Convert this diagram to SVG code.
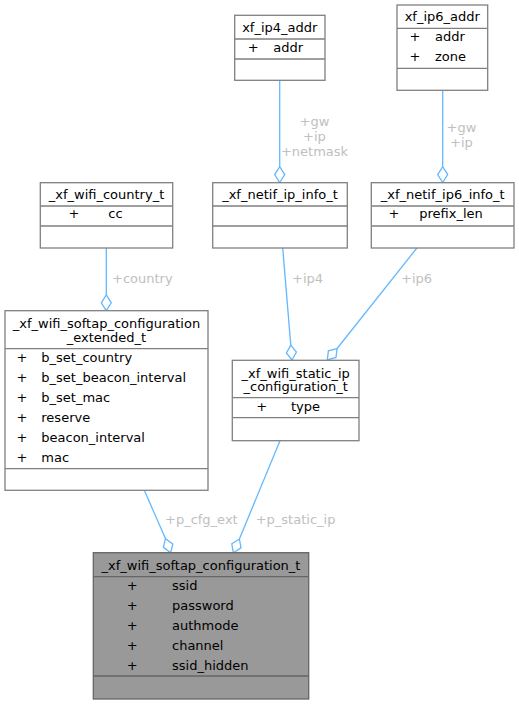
<svg xmlns="http://www.w3.org/2000/svg" width="519" height="704" viewBox="0 0 519 704">
<style>
text{font-family:"DejaVu Sans",sans-serif;font-size:13px;fill:#000}
.box{fill:#fff;stroke:#808080;stroke-width:1.3}
.sep{stroke:#808080;stroke-width:1.3}
.main{fill:#999999;stroke:#666666;stroke-width:1.3}
.msep{stroke:#666666;stroke-width:1.3}
.c{text-anchor:middle}
.edge{fill:none;stroke:#63b8ff;stroke-width:1.3}
.dia{fill:#fff;stroke:#63b8ff;stroke-width:1.3}
.lbl{fill:#c0c0c0}
</style>
<rect width="519" height="704" fill="#fff"/>
<g id="edges">
<path class="edge" d="M279.7,80.3V166.7"/>
<path class="dia" d="M279.7,182.5L284.7,174.6L279.7,166.7L274.7,174.6Z"/>
<text class="lbl c" x="314.5" y="125.5">+gw</text>
<text class="lbl c" x="314.5" y="140.5">+ip</text>
<text class="lbl c" x="314.5" y="155.5">+netmask</text>
<path class="edge" d="M442.7,90.3V166.7"/>
<path class="dia" d="M442.7,182.5L447.7,174.6L442.7,166.7L437.7,174.6Z"/>
<text class="lbl c" x="461.5" y="132.3">+gw</text>
<text class="lbl c" x="461.5" y="146.7">+ip</text>
<path class="edge" d="M106.3,248V295"/>
<path class="dia" d="M106.3,310.7L111.3,302.8L106.3,295L101.3,302.8Z"/>
<text class="lbl" x="112" y="282.7">+country</text>
<path class="edge" d="M282.7,248L290.8,345.1"/>
<path class="dia" d="M292,360L296.4,352.1L290.8,345.1L286.4,352.9Z"/>
<text class="lbl" x="292" y="282.7">+ip4</text>
<path class="edge" d="M416.9,248L337.1,348.5"/>
<path class="dia" d="M327.3,359.8L336,357.4L337.1,348.5L328.4,350.8Z"/>
<text class="lbl" x="401" y="282.7">+ip6</text>
<path class="edge" d="M144.3,490.3L165.45,538.6"/>
<path class="dia" d="M170.7,552.7L172.8,543.9L165.45,538.6L163.4,547.4Z"/>
<text class="lbl" x="165" y="524.3">+p_cfg_ext</text>
<path class="edge" d="M280,440.7L239.4,539"/>
<path class="dia" d="M233.3,552.7L241,547.9L239.4,539L231.8,543.8Z"/>
<text class="lbl" x="255.7" y="524.3">+p_static_ip</text>
</g>
<g id="xf_ip4_addr">
<rect class="box" x="234.7" y="15.3" width="90.3" height="65"/>
<path class="sep" d="M234.7,39H325M234.7,59H325"/>
<text class="c" x="279.8" y="31.7">xf_ip4_addr</text>
<text class="c" x="253.3" y="51.7">+</text>
<text x="273.3" y="51.7">addr</text>
</g>
<g id="xf_ip6_addr">
<rect class="box" x="397" y="5" width="90.7" height="85.3"/>
<path class="sep" d="M397,28.3H487.7M397,68.3H487.7"/>
<text class="c" x="442.3" y="20.7">xf_ip6_addr</text>
<text class="c" x="415" y="40.7">+</text>
<text x="435" y="40.7">addr</text>
<text class="c" x="415" y="60.7">+</text>
<text x="435" y="60.7">zone</text>
</g>
<g id="xf_wifi_country_t">
<rect class="box" x="40.3" y="182.7" width="132.4" height="65.3"/>
<path class="sep" d="M40.3,206H172.7M40.3,226H172.7"/>
<text class="c" x="106.5" y="199">_xf_wifi_country_t</text>
<text class="c" x="74" y="218.3">+</text>
<text x="108.3" y="218.3">cc</text>
</g>
<g id="xf_netif_ip_info_t">
<rect class="box" x="212.7" y="182.7" width="134.6" height="65.3"/>
<path class="sep" d="M212.7,206H347.3M212.7,226H347.3"/>
<text class="c" x="280" y="199">_xf_netif_ip_info_t</text>
</g>
<g id="xf_netif_ip6_info_t">
<rect class="box" x="371.3" y="182.7" width="142.7" height="65.3"/>
<path class="sep" d="M371.3,206H514M371.3,226H514"/>
<text class="c" x="442.7" y="199">_xf_netif_ip6_info_t</text>
<text class="c" x="394" y="218.3">+</text>
<text x="419.3" y="218.3">prefix_len</text>
</g>
<g id="xf_wifi_softap_configuration_extended_t">
<rect class="box" x="5" y="310.7" width="203" height="179.6"/>
<path class="sep" d="M5,348.7H208M5,468.7H208"/>
<text class="c" x="106.5" y="327.5">_xf_wifi_softap_configuration</text>
<text class="c" x="106.5" y="341.5">_extended_t</text>
<text class="c" x="22" y="361.7">+</text><text x="41.3" y="361.7">b_set_country</text>
<text class="c" x="22" y="381.7">+</text><text x="41.3" y="381.7">b_set_beacon_interval</text>
<text class="c" x="22" y="401.7">+</text><text x="41.3" y="401.7">b_set_mac</text>
<text class="c" x="22" y="421.7">+</text><text x="41.3" y="421.7">reserve</text>
<text class="c" x="22" y="441.7">+</text><text x="41.3" y="441.7">beacon_interval</text>
<text class="c" x="22" y="461.7">+</text><text x="41.3" y="461.7">mac</text>
</g>
<g id="xf_wifi_static_ip_configuration_t">
<rect class="box" x="232.3" y="360.3" width="126.7" height="80.4"/>
<path class="sep" d="M232.3,397.7H359M232.3,417.7H359"/>
<text class="c" x="295.7" y="377.5">_xf_wifi_static_ip</text>
<text class="c" x="295.7" y="391">_configuration_t</text>
<text class="c" x="261.7" y="410.7">+</text>
<text x="291" y="410.7">type</text>
</g>
<g id="xf_wifi_softap_configuration_t">
<rect class="main" x="93.3" y="552.7" width="215.4" height="146.3"/>
<path class="msep" d="M93.3,576.7H308.7M93.3,676H308.7"/>
<text class="c" x="201" y="570">_xf_wifi_softap_configuration_t</text>
<text class="c" x="132.3" y="590">+</text><text x="172" y="590">ssid</text>
<text class="c" x="132.3" y="610">+</text><text x="172" y="610">password</text>
<text class="c" x="132.3" y="630">+</text><text x="172" y="630">authmode</text>
<text class="c" x="132.3" y="650">+</text><text x="172" y="650">channel</text>
<text class="c" x="132.3" y="670">+</text><text x="172" y="670">ssid_hidden</text>
</g>
</svg>
